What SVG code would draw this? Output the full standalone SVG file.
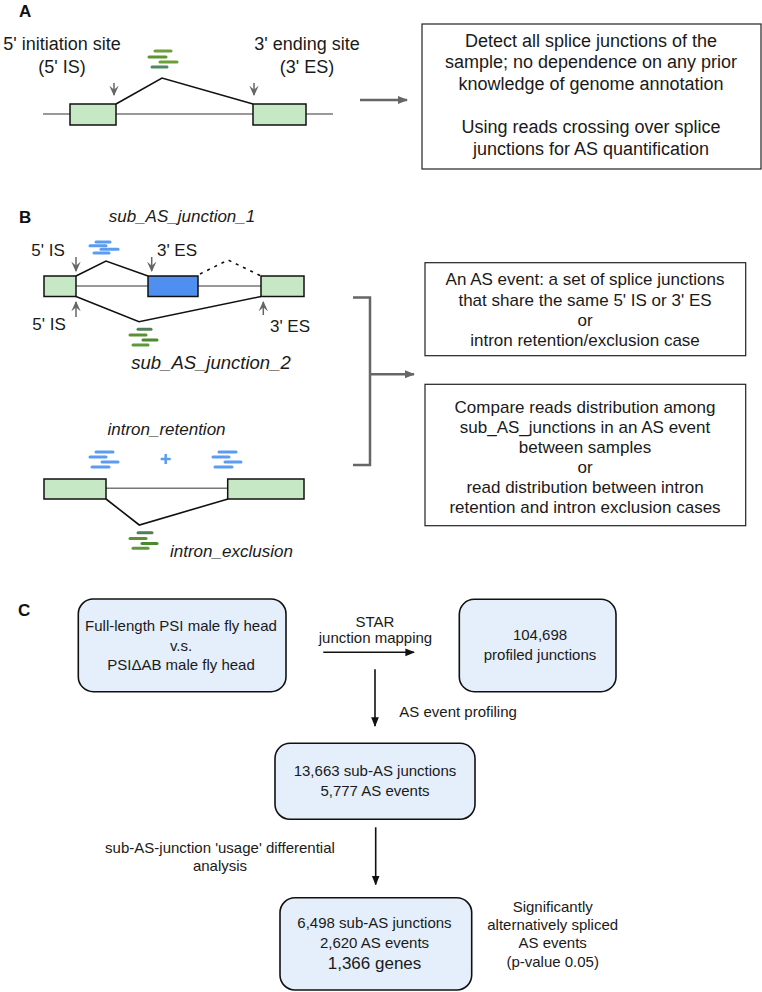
<svg xmlns="http://www.w3.org/2000/svg" width="762" height="992" viewBox="0 0 762 992">
<defs>
<style>
text{font-family:"Liberation Sans",Arial,Helvetica,sans-serif;fill:#1a1a1a}
.lbl{font-size:17px;font-weight:bold;fill:#111}
.t18{font-size:18px}
.t17{font-size:17px}
.t15{font-size:15px}
.it{font-style:italic}
.mid{text-anchor:middle}
.exon{fill:#c6e8c4;stroke:#111;stroke-width:1.5}
.bexon{fill:#4f8ff0;stroke:#111;stroke-width:1.5}
.intron{stroke:#777;stroke-width:1.5;fill:none}
.junc{stroke:#111;stroke-width:1.6;fill:none}
.ptr{stroke:#666;stroke-width:1.5;fill:none}
.rd{stroke-width:3;stroke-linecap:round;fill:none}
.blu{stroke:#5b9cf0}
.box{fill:#fff;stroke:#222;stroke-width:1.2}
.rbox{fill:#e4effb;stroke:#111;stroke-width:1.6}
.garr{stroke:#666;stroke-width:2.5;fill:none}
.karr{stroke:#111;stroke-width:1.6;fill:none}
</style>
<marker id="gh" viewBox="0 0 10 10" refX="9" refY="5" markerWidth="4" markerHeight="4" orient="auto" markerUnits="strokeWidth"><path d="M0,1 L10,5 L0,9 z" fill="#666"/></marker>
<marker id="kh" viewBox="0 0 10 10" refX="9" refY="5" markerWidth="6" markerHeight="6" orient="auto" markerUnits="strokeWidth"><path d="M0,1 L10,5 L0,9 z" fill="#111"/></marker>
<marker id="ph" viewBox="0 0 10 10" refX="9" refY="5" markerWidth="7" markerHeight="7" orient="auto" markerUnits="strokeWidth"><path d="M0,0.5 L10,5 L0,9.5 L4,5 z" fill="#666"/></marker>
</defs>

<!-- Panel A -->
<g id="panelA">
<text class="lbl" x="19" y="17">A</text>
<text class="t18 mid" x="62" y="50">5' initiation site</text>
<text class="t18 mid" x="62" y="73">(5' IS)</text>
<text class="t18 mid" x="307" y="50">3' ending site</text>
<text class="t18 mid" x="307" y="73">(3' ES)</text>
<line class="intron" x1="43" y1="114" x2="333" y2="114"/>
<rect class="exon" x="70" y="104" width="46" height="21"/>
<rect class="exon" x="253" y="104" width="53" height="21"/>
<polyline class="junc" points="116,104 162,78 253,104"/>
<line class="ptr" x1="114" y1="83" x2="114" y2="95" marker-end="url(#ph)"/>
<line class="ptr" x1="254" y1="83" x2="254" y2="95" marker-end="url(#ph)"/>
<line class="rd" stroke="#6f9e3a" x1="155" y1="51" x2="171" y2="51"/>
<line class="rd" stroke="#5e9331" x1="149" y1="57" x2="166" y2="57"/>
<line class="rd" stroke="#6aa03a" x1="160" y1="62" x2="177" y2="62"/>
<line class="rd" stroke="#4d8a5f" x1="152" y1="67" x2="167" y2="67"/>
</g>
<g id="boxA">
<rect class="box" x="422" y="24" width="339" height="145"/>
<text class="t18 mid" x="591" y="47">Detect all splice junctions of the</text>
<text class="t18 mid" x="591" y="68">sample; no dependence on any prior</text>
<text class="t18 mid" x="591" y="90">knowledge of genome annotation</text>
<text class="t18 mid" x="591" y="133">Using reads crossing over splice</text>
<text class="t18 mid" x="591" y="155">junctions for AS quantification</text>
</g>

<!-- Panel B -->
<g id="panelB">
<text class="lbl" x="19" y="223">B</text>
<text class="t17 it mid" x="182" y="222">sub_AS_junction_1</text>
<text class="t17 mid" x="48" y="256">5' IS</text>
<text class="t17 mid" x="177" y="256">3' ES</text>
<line class="rd blu" x1="96" y1="242" x2="110" y2="242"/>
<line class="rd blu" x1="90" y1="245.7" x2="106" y2="245.7"/>
<line class="rd blu" x1="101" y1="249.3" x2="118" y2="249.3"/>
<line class="rd blu" x1="94" y1="253" x2="109" y2="253"/>
<line class="intron" x1="76" y1="286" x2="148" y2="286"/>
<line class="intron" x1="198" y1="286" x2="261" y2="286"/>
<rect class="exon" x="44" y="276" width="32" height="20.5"/>
<rect class="bexon" x="148" y="276" width="50" height="20.5"/>
<rect class="exon" x="261" y="276" width="43" height="20.5"/>
<polyline class="junc" points="76,276 106,261 148,276"/>
<polyline class="junc" points="200,274 228,260 261,276" stroke-dasharray="3,5"/>
<polyline class="junc" points="76,296.5 139,321.7 261,296.5"/>
<line class="ptr" x1="76" y1="257" x2="76" y2="271" marker-end="url(#ph)"/>
<line class="ptr" x1="151.7" y1="257" x2="151.7" y2="271" marker-end="url(#ph)"/>
<line class="ptr" x1="76" y1="317" x2="76" y2="302" marker-end="url(#ph)"/>
<line class="ptr" x1="263.3" y1="315" x2="263.3" y2="302" marker-end="url(#ph)"/>
<text class="t17 mid" x="49" y="330">5' IS</text>
<text class="t17 mid" x="290" y="331.5">3' ES</text>
<line class="rd" stroke="#4e7f56" x1="138" y1="329.3" x2="151" y2="329.3"/>
<line class="rd" stroke="#5a9231" x1="130" y1="335" x2="146" y2="335"/>
<line class="rd" stroke="#4b8a2c" x1="143" y1="340" x2="157" y2="340"/>
<line class="rd" stroke="#5b9a3a" x1="133" y1="345" x2="148" y2="345"/>
<text class="it mid" style="font-size:18.5px" x="211" y="369">sub_AS_junction_2</text>

<text class="t17 it mid" x="166.5" y="435">intron_retention</text>
<line class="rd blu" x1="96" y1="452" x2="113" y2="452"/>
<line class="rd blu" x1="90" y1="457" x2="106" y2="457"/>
<line class="rd blu" x1="102" y1="462" x2="118" y2="462"/>
<line class="rd blu" x1="92" y1="467" x2="109" y2="467"/>
<path d="M160.7,459 H170.7 M165.7,454 V464" stroke="#5b9cf0" stroke-width="2.5" fill="none"/>
<line class="rd blu" x1="219" y1="452" x2="236" y2="452"/>
<line class="rd blu" x1="213" y1="457" x2="229" y2="457"/>
<line class="rd blu" x1="225" y1="462" x2="241" y2="462"/>
<line class="rd blu" x1="215" y1="467" x2="232" y2="467"/>
<line class="intron" x1="106" y1="488.3" x2="228" y2="488.3"/>
<rect class="exon" x="44" y="479" width="62" height="20"/>
<rect class="exon" x="227.7" y="479" width="76.3" height="20"/>
<polyline class="junc" points="106,499 139.3,525 228,499"/>
<line class="rd" stroke="#4e7f56" x1="138" y1="532.7" x2="152" y2="532.7"/>
<line class="rd" stroke="#5a9231" x1="130" y1="538.5" x2="146" y2="538.5"/>
<line class="rd" stroke="#4b8a2c" x1="142" y1="543.5" x2="157" y2="543.5"/>
<line class="rd" stroke="#5b9a3a" x1="133" y1="548.3" x2="148" y2="548.3"/>
<text class="t17 it" x="170" y="556.7">intron_exclusion</text>
</g>
<g id="boxB1">
<rect class="box" x="425" y="262.7" width="320.7" height="93"/>
<text class="t17 mid" x="585" y="285">An AS event: a set of splice junctions</text>
<text class="t17 mid" x="585" y="305.5">that share the same 5' IS or 3' ES</text>
<text class="t17 mid" x="585" y="325.5">or</text>
<text class="t17 mid" x="585" y="346">intron retention/exclusion case</text>
</g>
<g id="boxB2">
<rect class="box" x="425" y="384.3" width="320.7" height="141.4"/>
<text class="t17 mid" x="585" y="413">Compare reads distribution among</text>
<text class="t17 mid" x="585" y="433">sub_AS_junctions in an AS event</text>
<text class="t17 mid" x="585" y="453">between samples</text>
<text class="t17 mid" x="585" y="473">or</text>
<text class="t17 mid" x="585" y="493">read distribution between intron</text>
<text class="t17 mid" x="585" y="513">retention and intron exclusion cases</text>
</g>

<!-- Panel C -->
<g id="panelC">
<text class="lbl" x="18" y="616">C</text>
</g>
<g id="nodeC1">
<rect class="rbox" x="78.3" y="599" width="207.7" height="92.7" rx="15"/>
<text class="t15 mid" x="181" y="631">Full-length PSI male fly head</text>
<text class="t15 mid" x="181" y="651">v.s.</text>
<text class="t15 mid" x="181" y="670">PSIΔAB male fly head</text>
</g>
<g id="nodeC2">
<rect class="rbox" x="459.3" y="599.3" width="156.7" height="92.4" rx="15"/>
<text class="t15 mid" x="540" y="640">104,698</text>
<text class="t15 mid" x="540" y="659.5">profiled junctions</text>
</g>
<g id="nodeC3">
<rect class="rbox" x="275" y="743.3" width="200" height="76" rx="15"/>
<text class="t15 mid" x="375" y="776">13,663 sub-AS junctions</text>
<text class="t15 mid" x="375" y="796">5,777 AS events</text>
</g>
<g id="nodeC4">
<rect class="rbox" x="280" y="897.7" width="191.7" height="92.3" rx="15"/>
<text class="t15 mid" x="374.5" y="928.3">6,498 sub-AS junctions</text>
<text class="t15 mid" x="374.5" y="948.3">2,620 AS events</text>
<text class="mid" style="font-size:17px" x="374.5" y="969">1,366 genes</text>
</g>
<g id="labelsC">
<text class="t15 mid" x="375" y="626.7">STAR</text>
<text class="t15 mid" x="375.5" y="643.3">junction mapping</text>
<text class="t15" x="399.3" y="716.7">AS event profiling</text>
<text class="t15 mid" x="220" y="853.3">sub-AS-junction 'usage' differential</text>
<text class="t15 mid" x="220" y="870.7">analysis</text>
<text class="t15 mid" x="552.7" y="911.7">Significantly</text>
<text class="t15 mid" x="552.7" y="930">alternatively spliced</text>
<text class="t15 mid" x="552.7" y="948.3">AS events</text>
<text class="t15 mid" x="552.7" y="966.7">(p-value 0.05)</text>
</g>

<!-- Connectors -->
<g id="connectors">
<line class="garr" x1="360" y1="100" x2="407" y2="100" marker-end="url(#gh)"/>
<polyline class="garr" points="353,297.5 370,297.5 370,465 353,465" stroke-width="3"/>
<line class="garr" x1="370" y1="374.3" x2="414" y2="374.3" stroke-width="3" marker-end="url(#gh)"/>
<line class="karr" x1="323.3" y1="652.3" x2="414" y2="652.3" marker-end="url(#kh)"/>
<line class="karr" x1="375" y1="669.3" x2="375" y2="726" marker-end="url(#kh)"/>
<line class="karr" x1="375.7" y1="827.3" x2="375.7" y2="884.5" marker-end="url(#kh)"/>
</g>
</svg>
